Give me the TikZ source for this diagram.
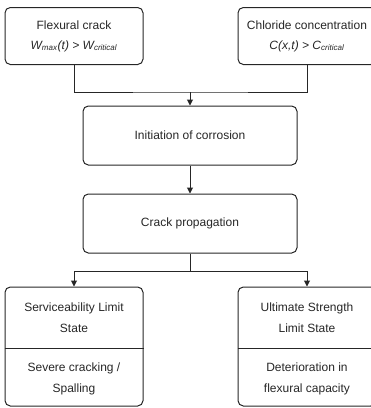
\documentclass[tikz,border=0pt]{standalone}
\usepackage{fontspec}
\setmainfont{Liberation Sans}
\usepackage{tikz}
\usetikzlibrary{arrows.meta,positioning}

\begin{document}
\begin{tikzpicture}[x=0.75pt, y=-0.75pt,
    cause/.style={rectangle, draw=black!85, line width=0.75pt, rounded corners=4pt, minimum width=103.5pt, minimum height=42.75pt, align=center, text=black!85, font=\fontsize{9}{15}\selectfont},
    stage/.style={rectangle, draw=black!85, line width=0.75pt, rounded corners=4pt, minimum width=160.5pt, minimum height=44.25pt, align=center, text=black!85, font=\fontsize{9}{12}\selectfont},
    limit/.style={rectangle, draw=black!85, line width=0.75pt, rounded corners=4pt, minimum width=103.5pt, minimum height=89.25pt},
    limitText/.style={align=center, text=black!85, font=\fontsize{9}{15.75}\selectfont},
    link/.style={line width=0.75pt, black!85},
    arr/.style={link, -{Triangle[width=4.5pt, length=4.5pt]}}
]
\useasboundingbox (0,0) rectangle (371,408);

% Causes - top row
\node[cause] (flex) at (74,36) {Flexural crack\\ \itshape W\textsubscript{max}(t) > W\textsubscript{critical}};
\node[cause] (chl) at (307,36) {Chloride concentration\\ \itshape C(x,t) > C\textsubscript{critical}};

% Corrosion stages
\node[stage] (init) at (190,135.5) {Initiation of corrosion};
\node[stage] (prop) at (190,223.5) {Crack propagation};

% Limit states - bottom row
\node[limit] (sls) at (74,346.5) {};
\node[limit] (uls) at (307,346.5) {};
\draw[link] (sls.west |- 0,348) -- (sls.east |- 0,348);
\draw[link] (uls.west |- 0,348) -- (uls.east |- 0,348);

\node[limitText] (slsHead) at (74,318) {Serviceability Limit\\State};
\node[limitText] (slsBody) at (74,379) {Severe cracking /\\Spalling};
\node[limitText] (ulsHead) at (307,318) {Ultimate Strength\\Limit State};
\node[limitText] (ulsBody) at (307,379) {Deterioration in\\flexural capacity};

% Junctions
\coordinate (join) at (190,92);
\coordinate (split) at (190,271);

% Connectors
\draw[link] (flex.south) |- (join) -| (chl.south);
\draw[arr] (join) -- (init.north);
\draw[arr] (init.south) -- (prop.north);
\draw[link] (prop.south) -- (split);
\draw[arr] (split) -| (sls.north);
\draw[arr] (split) -| (uls.north);

\end{tikzpicture}
\end{document}
